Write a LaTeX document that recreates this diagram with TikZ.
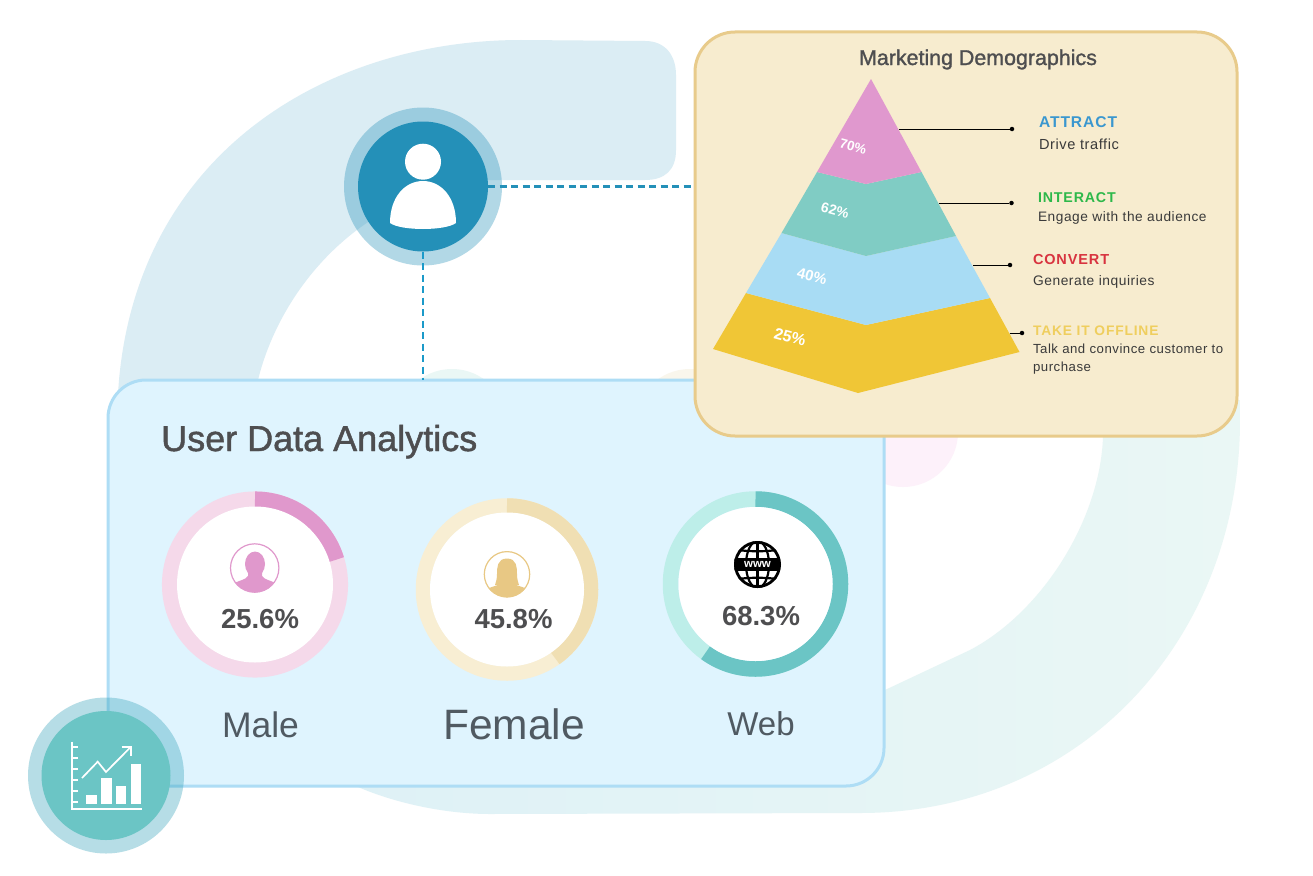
\documentclass[tikz,border=0pt]{standalone}
\usepackage{fontspec}
\setmainfont{Liberation Sans}
\newfontfamily\medfont[FakeBold=1.3]{Liberation Sans}
\newfontfamily\spfont[LetterSpace=4]{Liberation Sans}
\newfontfamily\spbfont[LetterSpace=6,BoldFont={Liberation Sans Bold}]{Liberation Sans}
\newcommand{\fsz}[1]{\fontsize{#1pt}{#1pt}\selectfont}
\definecolor{bandtop}{HTML}{DBEDF4}
\definecolor{bandl}{HTML}{DEF1F6}
\definecolor{bandr}{HTML}{EAF7F5}
\definecolor{panelfill}{HTML}{DFF4FE}
\definecolor{panelline}{HTML}{AEDDF5}
\definecolor{creamfill}{HTML}{F7ECCF}
\definecolor{creamline}{HTML}{E8CB8B}
\definecolor{userblue}{HTML}{2490B8}
\definecolor{dashblue}{HTML}{1B9AC9}
\definecolor{chartteal}{HTML}{6BC5C5}
\definecolor{chartring}{HTML}{2FA0B8}
\definecolor{pkl}{HTML}{F5D9EA}
\definecolor{pkd}{HTML}{E098CC}
\definecolor{yll}{HTML}{F8EED3}
\definecolor{yld}{HTML}{F0DFB3}
\definecolor{tll}{HTML}{BDEEE9}
\definecolor{tld}{HTML}{6BC5C5}
\definecolor{gold}{HTML}{E8C884}
\definecolor{txtdark}{HTML}{4E4E50}
\definecolor{txtlab}{HTML}{505A62}
\definecolor{pyrpink}{HTML}{E098CE}
\definecolor{pyrteal}{HTML}{80CCC4}
\definecolor{pyrblue}{HTML}{A8DCF4}
\definecolor{pyryel}{HTML}{F0C636}
\definecolor{cattract}{HTML}{3A97CF}
\definecolor{cinteract}{HTML}{2DB84A}
\definecolor{cconvert}{HTML}{D8333F}
\definecolor{coffline}{HTML}{EFCE5E}
\definecolor{bodytxt}{HTML}{3A3A3A}
\definecolor{humpcream}{HTML}{F9F6EC}
\definecolor{humppink}{HTML}{FDF1FA}
\tikzset{
  panelbox/.style={draw=panelline,fill=panelfill,line width=3pt,rounded corners=38pt,inner sep=0pt,outer sep=0pt,minimum width=776pt,minimum height=406pt},
  creambox/.style={draw=creamline,fill=creamfill,line width=3pt,rounded corners=40pt,inner sep=0pt,outer sep=0pt,minimum width=542pt,minimum height=404pt},
  disc/.style={circle,inner sep=0pt,outer sep=0pt,minimum size=#1},
  dashline/.style={line width=2.3pt,dash pattern=on 7pt off 4.5pt},
  leader/.style={black,line width=1pt},
  leaddot/.style={circle,fill=black,inner sep=0pt,outer sep=0pt,minimum size=4.5pt},
  lab/.style={anchor=base west,inner sep=0pt,outer sep=0pt},
  headlab/.style={lab,font=\spbfont\fsz{#1}\bfseries},
  desc/.style={lab,text=bodytxt,font=\spfont\fsz{#1}},
  pct/.style={text=white,inner sep=0pt,rotate=-15},
  ringval/.style={text=txtdark,inner sep=0pt,anchor=base,font=\fsz{27.5}\bfseries},
  ringlab/.style={text=txtlab,inner sep=0pt,anchor=base},
  chartline/.style={draw=white,line width=1.7pt}
}
\begin{document}
\begin{tikzpicture}[x=1pt,y=-1pt]
\useasboundingbox (0,0) rectangle (1313,875);
\fill[white] (0,0) rectangle (1313,875);
% background bands
\fill[bandtop] (116,420) -- (119,380) .. controls (140,150) and (330,40) .. (521,40) -- (645,41)
  .. controls (665,41) and (676,55) .. (676,75) -- (676,150)
  .. controls (676,170) and (665,180) .. (645,180) -- (490,180)
  .. controls (360,190) and (280,290) .. (258,380) -- (254,420) -- cycle;
\shade[left color=bandl,right color=bandr] (340,770) -- (358,787)
  .. controls (400,805) and (450,814) .. (490,814) -- (860,813)
  .. controls (1080,813) and (1240,640) .. (1240,420) -- (1240,400) -- (1103,400) -- (1103,437)
  .. controls (1100,520) and (1042,612) .. (970,650) -- (885,690) -- (800,730) -- cycle;
% humps behind the panels
\fill[bandr] (452,424) circle (55);
\fill[humpcream] (690,424) circle (55);
\fill[humppink] (903,432) circle (55);
% user data panel
\node[panelbox] (panel) at (496,583) {};
\node[text=txtdark,inner sep=0pt,anchor=base west,font=\medfont\fsz{36}] (paneltitle) at (161,451) {User Data Analytics};
% rings
\coordinate (cm) at (255,584.5);
\draw[pkl,line width=15.5pt] (cm) circle (85.3);
\draw[pkd,line width=15.5pt] (cm) ++(-90:85.3) arc (-90:-17:85.3);
\fill[white] (cm) circle (78);
\coordinate (cf) at (507,589.5);
\draw[yll,line width=14.5pt] (cf) circle (84);
\draw[yld,line width=14.5pt] (cf) ++(-90:84) arc (-90:55:84);
\fill[white] (cf) circle (77);
\coordinate (cw) at (755.5,584);
\draw[tll,line width=15.5pt] (cw) circle (85);
\draw[tld,line width=15.5pt] (cw) ++(-90:85) arc (-90:126:85);
\fill[white] (cw) circle (77);
% male icon
\begin{scope}
\clip (254.7,568) circle (24.5);
\fill[pkd] (255,564) ellipse (10 and 12.5);
\fill[pkd] (248,570) -- (248,576) .. controls (246,580) and (236,581) .. (231,585) -- (231,597) -- (279,597) -- (279,585) .. controls (274,581) and (264,580) .. (262,576) -- (262,570) -- cycle;
\end{scope}
\draw[pkd,line width=1.2pt] (254.7,568) circle (24.2);
% female icon
\begin{scope}
\clip (507,574.3) circle (23);
\fill[gold] (507,558.5) .. controls (497,558.5) and (497,568) .. (497,574) .. controls (497,579) and (496,582) .. (495,585) -- (519,585) .. controls (518,582) and (517,579) .. (517,574) .. controls (517,568) and (517,558.5) .. (507,558.5) -- cycle;
\fill[gold] (502,582) .. controls (500,586) and (490,586) .. (484,591) -- (484,600) -- (530,600) -- (530,591) .. controls (524,586) and (514,586) .. (512,582) -- cycle;
\end{scope}
\draw[gold,line width=1.2pt] (507,574.3) circle (22.7);
% globe icon
\begin{scope}
\clip (757.5,564.5) circle (23.5);
\fill[white] (757.5,564.5) circle (23.5);
\draw[black,line width=2.2pt] (757.5,564.5) ellipse (11.5 and 23.5);
\draw[black,line width=2.2pt] (757.5,540) -- (757.5,589);
\draw[black,line width=2.2pt] (734,549) .. controls (745,552) and (770,552) .. (781,549);
\draw[black,line width=2.2pt] (734,580) .. controls (745,577) and (770,577) .. (781,580);
\fill[black] (734,558) rectangle (781,571);
\end{scope}
\draw[black,line width=2.8pt] (757.5,564.5) circle (22.1);
\node[text=white,inner sep=0pt,font=\fsz{11.5}\bfseries] (www) at (757.5,564) {www};
% ring texts
\node[ringval] (v1) at (260,628) {25.6\%};
\node[ringval] (v2) at (513.5,628) {45.8\%};
\node[ringval] (v3) at (761,625) {68.3\%};
\node[ringlab,font=\fsz{35.5}] (l1) at (260.5,737) {Male};
\node[ringlab,font=\fsz{42.5}] (l2) at (514,739) {Female};
\node[ringlab,font=\fsz{33}] (l3) at (761,735) {Web};
% chart icon
\node[disc=156pt,fill=chartring,fill opacity=0.35] (chartouter) at (106,775.5) {};
\node[disc=129pt,fill=chartteal] (chart) at (106,775.5) {};
\draw[chartline] (71.7,741.7) -- (71.7,809) -- (141.7,809);
\foreach \ty in {747,758,769,780,791,802}{\draw[chartline,line width=1.4pt] (71.7,\ty) -- (78,\ty);}
\fill[white] (86,795) rectangle (96.7,803.5);
\fill[white] (101,777.7) rectangle (111.7,803.5);
\fill[white] (115.7,786) rectangle (126,803.5);
\fill[white] (130.7,764) rectangle (140.7,803.5);
\draw[chartline] (82,778) -- (97.7,761.7) -- (106,772) -- (131,746.7);
\draw[chartline] (121.7,746.7) -- (131,746.7) -- (131,756);
% user icon
\node[disc=158pt,fill=userblue,fill opacity=0.35] (userouter) at (423,186.5) {};
\node[disc=130pt,fill=userblue] (user) at (423,186.5) {};
\fill[white] (423,161.7) circle (18);
\fill[white] (390,223) .. controls (390,197) and (405,181) .. (423,181) .. controls (441,181) and (456,197) .. (456,223) .. controls (445,231) and (401,231) .. (390,223) -- cycle;
% marketing panel
\node[creambox] (mkt) at (966,234) {};
\draw[dashline,userblue] (user.east) -- (user.east -| mkt.west);
\draw[dashline,dashblue] (user.south) -- (user.south |- panel.north);
\node[text=txtdark,inner sep=0pt,anchor=base,font=\medfont\fsz{21.4}] (mkttitle) at (978,65) {Marketing Demographics};
% pyramid
\fill[pyryel] (746,293) -- (866,325) -- (990,298) -- (1019.5,352) -- (858,393) -- (713,349) -- cycle;
\fill[pyrblue] (781.5,233) -- (866,256) -- (956,236) -- (990,298) -- (866,325) -- (746,293) -- cycle;
\fill[pyrteal] (817,172) -- (866,184) -- (921.5,172) -- (956,236) -- (866,256) -- (781.5,233) -- cycle;
\fill[pyrpink] (871,79) -- (921.5,172) -- (866,184) -- (817,172) -- cycle;
\node[pct,font=\fsz{13.5}\bfseries] (p70) at (853,147) {70\%};
\node[pct,font=\fsz{14}\bfseries] (p62) at (835,210) {62\%};
\node[pct,font=\fsz{15}\bfseries] (p40) at (812,276) {40\%};
\node[pct,font=\fsz{16}\bfseries] (p25) at (790,337) {25\%};
% leaders
\coordinate (a0) at (899,129);
\coordinate (b0) at (939,203);
\coordinate (c0) at (973,265);
\coordinate (d0) at (1009.5,333);
\node[leaddot] (a1) at (1012,129) {};
\node[leaddot] (b1) at (1011.5,203) {};
\node[leaddot] (c1) at (1010,265) {};
\node[leaddot] (d1) at (1022,333) {};
\draw[leader] (a0) -- (a1);
\draw[leader] (b0) -- (b1);
\draw[leader] (c0) -- (c1);
\draw[leader] (d0) -- (d1);
% labels
\node[headlab=15.6,text=cattract] (h1) at (1039,127) {ATTRACT};
\node[desc=14.6] (t1) at (1039,149) {Drive traffic};
\node[headlab=14.2,text=cinteract] (h2) at (1038,202) {INTERACT};
\node[desc=13.7] (t2) at (1038,221) {Engage with the audience};
\node[headlab=14.5,text=cconvert] (h3) at (1033,264) {CONVERT};
\node[desc=13.8] (t3) at (1033,285) {Generate inquiries};
\node[headlab=13.8,text=coffline] (h4) at (1033,335) {TAKE IT OFFLINE};
\node[desc=13.2] (t4) at (1033,353) {Talk and convince customer to};
\node[desc=13.2] (t5) at (1033,371) {purchase};
\end{tikzpicture}
\end{document}
